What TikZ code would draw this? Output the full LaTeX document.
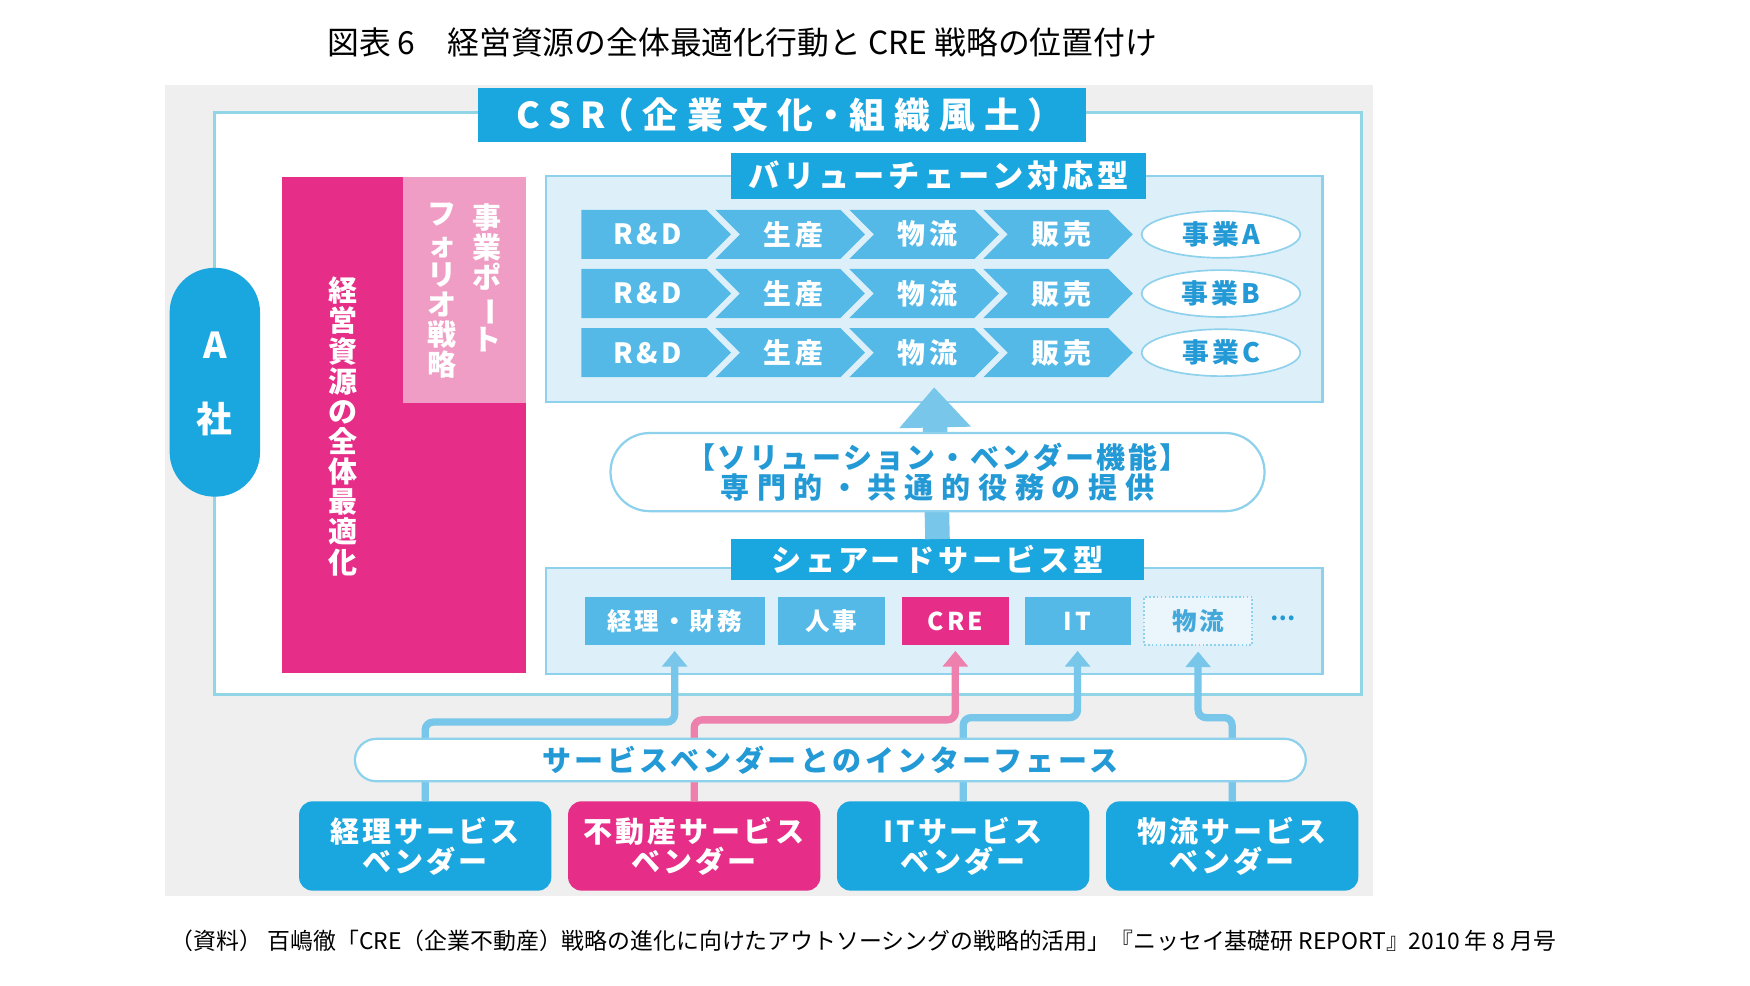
\documentclass[tikz,border=0pt]{standalone}
\usepackage{fontspec}
\usepackage{graphicx}
\setmainfont{Noto Sans CJK JP}
\usetikzlibrary{arrows.meta,shapes.geometric}
\definecolor{bgray}{HTML}{EFEFEF}
\definecolor{mainblue}{HTML}{1AA6DE}
\definecolor{chevblue}{HTML}{55B9E8}
\definecolor{magentaA}{HTML}{E62D87}
\definecolor{lightpink}{HTML}{EF9DC4}
\definecolor{boxfill}{HTML}{DDF0FA}
\definecolor{boxline}{HTML}{8ED1EC}
\definecolor{txtblue}{HTML}{2399D5}
\definecolor{framecol}{HTML}{92D5E6}
\definecolor{arrblue}{HTML}{78C6EA}
\definecolor{arrpink}{HTML}{EE80AE}
\definecolor{dotfill}{HTML}{EAF5FC}
\tikzset{
  jt/.style={font=\fontsize{#1}{#1}\selectfont\bfseries\addfontfeature{LetterSpace=12}},
  nwbox/.style={anchor=north west, inner sep=0pt, outer sep=0pt},
  bluetitle/.style={nwbox, fill=mainblue, text=white},
  lightbox/.style={nwbox, fill=boxfill, draw=boxline, line width=2pt},
  itembox/.style={minimum height=43pt, inner sep=0pt, jt=22, text=white, fill=chevblue},
  vendor/.style={minimum width=226pt, minimum height=80pt, rounded corners=12pt, inner sep=0pt, text=white, align=center, font=\fontsize{26}{27}\selectfont\bfseries\addfontfeature{LetterSpace=10}},
  conn/.style={line width=6.5pt, rounded corners=7pt, -{Triangle[width=22pt,length=14pt]}},
  vtext/.style={align=center, text=white, anchor=north, inner sep=0pt, font=\fontsize{26}{27}\selectfont\bfseries},
  bizell/.style={ellipse, draw=boxline, fill=white, line width=1.5pt, minimum width=142pt, minimum height=42pt, inner sep=0pt, text=txtblue, jt=24},
}
\begin{document}
\begin{tikzpicture}[x=1pt,y=-1pt]
\useasboundingbox (0,0) rectangle (1568,882.6);
\fill[white] (0,0) rectangle (1568,882.6);
% title
\node[anchor=west, inner sep=0pt, font=\fontsize{28.5}{28.5}\selectfont] (title) at (293,38) {図表 6　経営資源の全体最適化行動と CRE 戦略の位置付け};
% background and frame
\node[nwbox, fill=bgray, minimum width=1082pt, minimum height=727pt] (bg) at (148,76) {};
\node[nwbox, draw=framecol, line width=2.5pt, fill=white, minimum width=1028pt, minimum height=521pt] (frame) at (192,101) {};
\node[bluetitle, minimum width=545pt, minimum height=48pt, font=\fontsize{32}{32}\selectfont\bfseries\addfontfeature{RawFeature=+palt,LetterSpace=26}] (csr) at (428,79) {CSR（企業文化・組織風土）};
% magenta blocks
\node[nwbox, fill=magentaA, minimum width=218pt, minimum height=444pt] (mag) at (253,159) {};
\node[nwbox, fill=lightpink, minimum width=110pt, minimum height=202pt] (pf) at (361,159) {};
\node[vtext] (magtxt) at (307,248) {経\\営\\資\\源\\の\\全\\体\\最\\適\\化};
\node[vtext] (pfright) at (436,182) {事\\業\\ポ\\\rotatebox[origin=c]{-90}{ー}\\ト};
\node[vtext] (pfleft) at (396,182) {フ\\ォ\\リ\\オ\\戦\\略};
% A company pill
\node[fill=mainblue, rounded corners=40pt, minimum width=81pt, minimum height=205pt, inner sep=0pt] (asha) at (192.5,342.5) {};
\node[text=white, font=\fontsize{32}{32}\selectfont\bfseries] (aA) at (192.5,309) {A};
\node[text=white, font=\fontsize{32}{32}\selectfont\bfseries] (aS) at (192.5,375) {社};
% value chain
\node[lightbox, minimum width=696pt, minimum height=202pt] (vc) at (489,158) {};
\node[bluetitle, minimum width=372pt, minimum height=41pt, jt=28] (vct) at (655,137) {バリューチェーン対応型};
\foreach \r/\yc/\lab in {1/210/A,2/263/B,3/316/C}{
  \foreach \i/\xs/\txt in {0/521/{R\&D},1/641/生産,2/761/物流,3/881/販売}{
    \pgfmathsetmacro\nd{ifthenelse(\i==0,0,22)}
    \fill[chevblue] (\xs,\yc-22) -- (\xs+112,\yc-22) -- (\xs+134,\yc) -- (\xs+112,\yc+22) -- (\xs,\yc+22) -- (\xs+\nd,\yc) -- cycle;
    \node[text=white, jt=25] (ch-\r-\i) at (\xs+59+\nd/2,\yc) {\txt};
  }
  \node[bizell] (biz-\r) at (1094,\yc) {事業\lab};
}
% shared services
\node[lightbox, minimum width=696pt, minimum height=95pt] (sh) at (489,509) {};
\node[bluetitle, minimum width=370pt, minimum height=37pt, jt=27] (sht) at (655,483) {シェアードサービス型};
\draw[color=arrblue, line width=22pt, -{Triangle[width=62pt,length=36pt]}] (sht.north) -- ([yshift=13pt]vc.south);
\node[fill=white, draw=boxline, line width=2pt, rounded corners=35pt, minimum width=586pt, minimum height=70pt, inner sep=0pt] (sol) at (840,423) {};
\node[text=txtblue, font=\fontsize{26}{26}\selectfont\bfseries\addfontfeature{LetterSpace=9}] (sol1) at (840,410) {【ソリューション・ベンダー機能】};
\node[text=txtblue, font=\fontsize{26}{26}\selectfont\bfseries\addfontfeature{LetterSpace=27}] (sol2) at (840,437) {専門的・共通的役務の提供};
% items
\node[itembox, minimum width=161pt] (i1) at (604.5,556.5) {経理・財務};
\node[itembox, minimum width=96pt] (i2) at (745,556.5) {人事};
\node[itembox, minimum width=96pt, fill=magentaA] (i3) at (856,556.5) {CRE};
\node[itembox, minimum width=95pt] (i4) at (965.5,556.5) {IT};
\node[itembox, minimum width=97pt, fill=dotfill, draw=boxline, dotted, line width=1.5pt, text=txtblue!85] (i5) at (1073.5,556.5) {物流};
\node[text=txtblue, font=\fontsize{20}{20}\selectfont\bfseries] (more) at (1150,554) {…};
% vendors
\node[vendor, fill=mainblue] (v1) at (381,758) {経理サービス\\ベンダー};
\node[vendor, fill=magentaA] (v2) at (622,758) {不動産サービス\\ベンダー};
\node[vendor, fill=mainblue] (v3) at (863,758) {ITサービス\\ベンダー};
\node[vendor, fill=mainblue] (v4) at (1104,758) {物流サービス\\ベンダー};
% connectors
\draw[conn, color=arrblue] (v1.north) -- (v1.north |- 0,647) -| ([yshift=-5pt]i1.south);
\draw[conn, color=arrpink] (v2.north) -- (v2.north |- 0,645) -| ([yshift=-5pt]i3.south);
\draw[conn, color=arrblue] (v3.north) -- (v3.north |- 0,643) -| ([yshift=-5pt]i4.south);
\draw[conn, color=arrblue] (v4.north) -- (v4.north |- 0,643) -| ([yshift=-5pt]i5.south);
% interface pill
\node[fill=white, draw=boxline, line width=2pt, rounded corners=19pt, minimum width=852pt, minimum height=38pt, inner sep=0pt, text=txtblue, jt=26] (iface) at (744,681) {サービスベンダーとのインターフェース};
% caption
\node[anchor=west, inner sep=0pt, font=\fontsize{20.5}{20.5}\selectfont] (cap) at (153,843) {（資料） 百嶋徹「CRE（企業不動産）戦略の進化に向けたアウトソーシングの戦略的活用」『ニッセイ基礎研 REPORT』2010 年 8 月号};
\end{tikzpicture}
\end{document}
